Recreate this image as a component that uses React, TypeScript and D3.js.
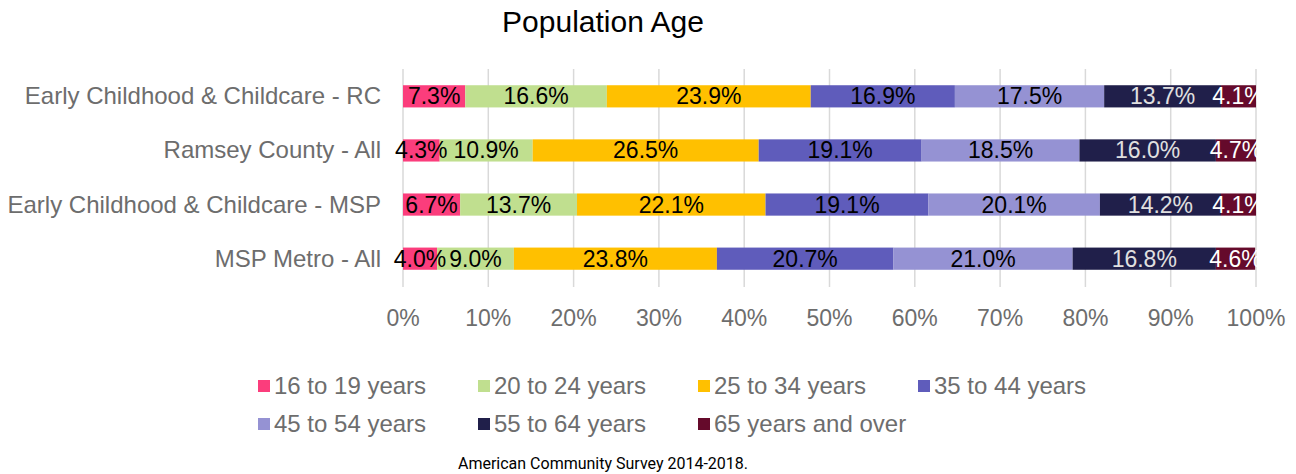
import React from "react";
import * as d3 from "d3";

const categories = [
  "Early Childhood & Childcare - RC",
  "Ramsey County - All",
  "Early Childhood & Childcare - MSP",
  "MSP Metro - All",
];
const seriesNames = [
  "16 to 19 years",
  "20 to 24 years",
  "25 to 34 years",
  "35 to 44 years",
  "45 to 54 years",
  "55 to 64 years",
  "65 years and over",
];
const age16to19 = [7.3, 4.3, 6.7, 4.0];
const age20to24 = [16.6, 10.9, 13.7, 9.0];
const age25to34 = [23.9, 26.5, 22.1, 23.8];
const age35to44 = [16.9, 19.1, 19.1, 20.7];
const age45to54 = [17.5, 18.5, 20.1, 21.0];
const age55to64 = [13.7, 16.0, 14.2, 16.8];
const age65plus = [4.1, 4.7, 4.1, 4.6];
const xTicks = [0, 10, 20, 30, 40, 50, 60, 70, 80, 90, 100];

const colors = ["#fb3d7c", "#c0df8f", "#ffc000", "#5f5cbb", "#9592d3", "#201f4a", "#650a2b"];
const labelColors = ["#000", "#000", "#000", "#000", "#000", "#e0e0e0", "#fff"];

const W = 1296;
const H = 474;
const FONT = "'Liberation Sans', Arial, sans-serif";

export default function App() {
  const series = [age16to19, age20to24, age25to34, age35to44, age45to54, age55to64, age65plus];
  const rows = categories.map((c, i) => {
    const r: any = { cat: c };
    seriesNames.forEach((s, j) => (r[s] = series[j][i]));
    return r;
  });
  const stacked = d3.stack<any>().keys(seriesNames)(rows);

  const x = d3.scaleLinear().domain([0, 100]).range([403, 1256]);
  const y = d3.scaleBand().domain(categories).range([69, 286]).paddingInner(0.59).paddingOuter(0.3);

  const legendCols = [258, 478, 698, 918];
  const legendRows = [386, 424];

  return (
    <svg width={W} height={H} style={{ position: "absolute", left: 0, top: 0, fontFamily: FONT }}>
      <rect width={W} height={H} fill="#fff" />
      <text x={603} y={32} textAnchor="middle" fontSize={30} fill="#000">
        Population Age
      </text>
      {xTicks.map((t) => (
        <g key={t}>
          <line x1={x(t)} x2={x(t)} y1={69} y2={287} stroke="#d9d9d9" strokeWidth={1.5} />
          <text x={x(t)} y={326} textAnchor="middle" fontSize={23} fill="#6d6d6d">
            {t}%
          </text>
        </g>
      ))}
      {categories.map((c) => (
        <text key={c} x={381} y={y(c)! + y.bandwidth() / 2 + 8} textAnchor="end" fontSize={24} fill="#6d6d6d">
          {c}
        </text>
      ))}
      {stacked.map((layer, j) => (
        <g key={layer.key}>
          {layer.map((d, i) => (
            <rect
              key={i}
              x={x(d[0])}
              width={x(d[1]) - x(d[0])}
              y={y(categories[i])}
              height={y.bandwidth()}
              fill={colors[j]}
            />
          ))}
        </g>
      ))}
      {stacked.map((layer, j) => (
        <g key={layer.key + "l"}>
          {layer.map((d, i) => (
            <text
              key={i}
              x={(x(d[0]) + x(d[1])) / 2}
              y={y(categories[i])! + y.bandwidth() / 2 + 8}
              textAnchor="middle"
              fontSize={23}
              fill={labelColors[j]}
            >
              {series[j][i].toFixed(1)}%
            </text>
          ))}
        </g>
      ))}
      {seriesNames.map((s, j) => {
        const cx = legendCols[j % 4];
        const cy = legendRows[Math.floor(j / 4)];
        return (
          <g key={s}>
            <rect x={cx} y={cy - 6} width={12} height={12} fill={colors[j]} />
            <text x={cx + 16} y={cy + 8} fontSize={24} fill="#6d6d6d">
              {s}
            </text>
          </g>
        );
      })}
      <text x={603} y={469} textAnchor="middle" fontSize={16} fill="#000" fontFamily="Roboto, sans-serif">
        American Community Survey 2014-2018.
      </text>
    </svg>
  );
}
